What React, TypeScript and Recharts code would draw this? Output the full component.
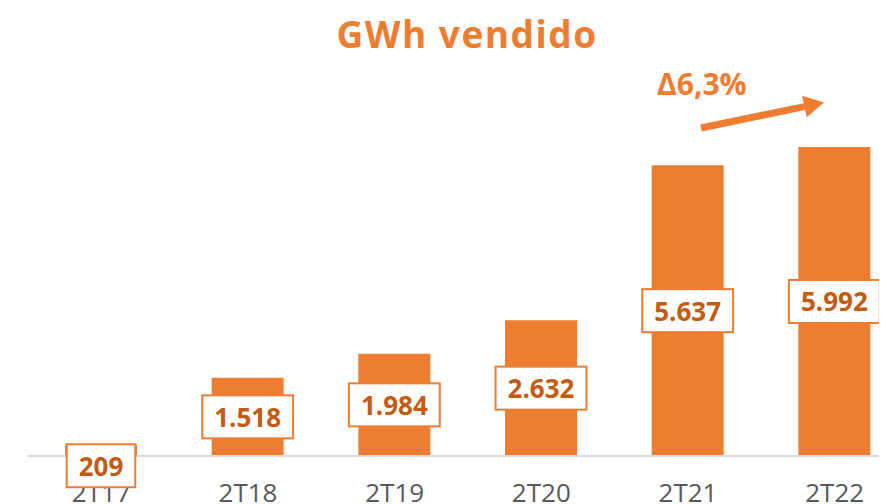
import React from 'react';
import { BarChart, Bar, XAxis, YAxis, LabelList } from 'recharts';

const categories = ['2T17', '2T18', '2T19', '2T20', '2T21', '2T22'];
const gwhSold = [209, 1518, 1984, 2632, 5637, 5992];
const valueLabels = ['209', '1.518', '1.984', '2.632', '5.637', '5.992'];
const titleText = 'GWh vendido';
const growthText = 'Δ6,3%';

const data = categories.map((c, i) => ({ name: c, value: gwhSold[i], label: valueLabels[i] }));

const ORANGE = '#ED7D31';
const DARK_ORANGE = '#C55A11';
const FONT = '"Open Sans", "DejaVu Sans", sans-serif';
const LABEL_FONT_SIZE = 26;

let ctx: CanvasRenderingContext2D | null = null;
function measure(text: string, font: string): number {
  if (typeof document === 'undefined') return text.length * 14;
  if (!ctx) ctx = document.createElement('canvas').getContext('2d');
  if (!ctx) return text.length * 14;
  ctx.font = font;
  return ctx.measureText(text).width;
}

function ValueBox(props: any) {
  const vb = props.viewBox || {};
  const x = props.x ?? vb.x;
  const y = props.y ?? vb.y;
  const width = props.width ?? vb.width;
  const height = props.height ?? vb.height;
  const text = String(props.value);
  const tw = measure(text, `bold ${LABEL_FONT_SIZE}px "Open Sans"`);
  const bw = tw + 24;
  const bh = 43;
  const cx = x + width / 2;
  const top = height < bh ? y - 1 : y + height / 2 - bh / 2;
  return (
    <g>
      <rect x={cx - bw / 2} y={top} width={bw} height={bh} fill="#FFFFFF" stroke={ORANGE} strokeWidth={2} />
      <text
        x={cx}
        y={top + bh / 2}
        textAnchor="middle"
        dominantBaseline="central"
        fontFamily={FONT}
        fontWeight="bold"
        fontSize={LABEL_FONT_SIZE}
        fill={DARK_ORANGE}
      >
        {text}
      </text>
    </g>
  );
}

function Arrow() {
  const off = 8;
  const sx = 701 - off, sy = 128 - off;
  const tx = 824 - off, ty = 102.5 - off;
  const dx = tx - sx, dy = ty - sy;
  const len = Math.hypot(dx, dy);
  const ux = dx / len, uy = dy / len;
  const nx = -uy, ny = ux;
  const headLen = 20, headHalf = 11, shaftHalf = 3.5;
  const bx = tx - ux * headLen, by = ty - uy * headLen;
  const pts = [
    [sx + nx * shaftHalf, sy + ny * shaftHalf],
    [bx + nx * shaftHalf, by + ny * shaftHalf],
    [bx + nx * headHalf, by + ny * headHalf],
    [tx, ty],
    [bx - nx * headHalf, by - ny * headHalf],
    [bx - nx * shaftHalf, by - ny * shaftHalf],
    [sx - nx * shaftHalf, sy - ny * shaftHalf],
  ];
  return <polygon points={pts.map((p) => p.join(',')).join(' ')} fill={ORANGE} />;
}

export default function App() {
  return (
    <div style={{ position: 'relative', width: 879, height: 496, overflow: 'hidden', background: '#fff' }}>
      <BarChart
        width={910}
        height={496}
        data={data}
        margin={{ top: 87, right: 10, left: 20, bottom: 0 }}
      >
        <YAxis hide domain={[0, 7000]} />
        <XAxis
          dataKey="name"
          interval={0}
          height={48}
          tickLine={false}
          tickMargin={22}
          axisLine={{ stroke: '#D9D9D9', strokeWidth: 2 }}
          tick={{ fill: '#595959', fontSize: 26, fontFamily: FONT }}
        />
        <Bar dataKey="value" fill={ORANGE} barSize={72} isAnimationActive={false}>
          <LabelList dataKey="label" content={ValueBox} />
        </Bar>
      </BarChart>
      <svg
        width={879}
        height={496}
        style={{ position: 'absolute', left: 0, top: 0, pointerEvents: 'none' }}
      >
        <text
          x={459}
          y={40}
          textAnchor="middle"
          fontFamily={FONT}
          fontWeight="bold"
          fontSize={37}
          letterSpacing={1.5}
          fill={ORANGE}
        >
          {titleText}
        </text>
        <text x={649} y={87} fontFamily={FONT} fontWeight="bold" fontSize={30} fill={ORANGE}>
          {growthText}
        </text>
        <Arrow />
      </svg>
    </div>
  );
}
